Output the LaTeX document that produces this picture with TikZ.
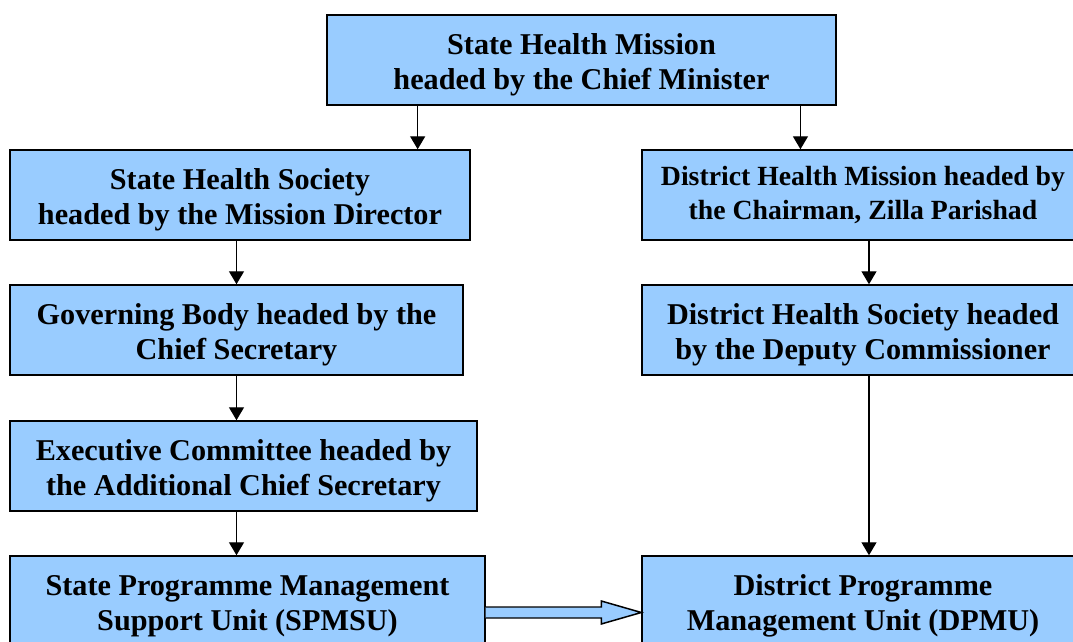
\documentclass[tikz,border=0pt]{standalone}
\usepackage{fontspec}
\setmainfont{Liberation Serif}
\usetikzlibrary{arrows.meta,calc}

\definecolor{boxblue}{HTML}{99CCFF}

\begin{document}
\begin{tikzpicture}[x = 0.02cm, y = -0.02cm,
    boxbase/.style = {draw, fill = boxblue, line width = 0.85pt, align = center,
        minimum height = 1.8cm, inner sep = 0pt},
    box/.style = {boxbase, font = \fontsize{17.2}{20}\selectfont\bfseries,
        execute at begin node = {\rule{0pt}{37.5pt}}},
    smallbox/.style = {boxbase, font = \fontsize{15.8}{19}\selectfont\bfseries},
    link/.style = {line width = 0.8pt, -{Triangle[length = 0.26cm, width = 0.3cm]}},
    bigarrow/.style = {draw, fill = boxblue, line width = 0.85pt, line join = miter}]
    \clip (0,0) rectangle (1073,642);

    % mission at the top
    \node[box, minimum width = 10.18cm] (mission) at (581.5,60)
        {State Health Mission\\headed by the Chief Minister};

    % state side
    \node[box, minimum width = 9.2cm] (shs) at (240,195)
        {State Health Society\\headed by the Mission Director};
    \node[box, minimum width = 9.06cm] (gb) at (236.5,330)
        {Governing Body headed by the\\Chief Secretary};
    \node[box, minimum width = 9.34cm] (ec) at (243.5,466)
        {Executive Committee headed by\\the Additional Chief Secretary};
    \node[box, minimum width = 9.5cm] (spmsu) at (247.5,601)
        {State Programme Management\\Support Unit (SPMSU)};

    % district side
    \node[smallbox, minimum width = 8.84cm] (dhm) at (863,195)
        {District Health Mission headed by\\the Chairman, Zilla Parishad};
    \node[box, minimum width = 8.84cm] (dhs) at (863,330)
        {District Health Society headed\\by the Deputy Commissioner};
    \node[box, minimum width = 8.84cm] (dpmu) at (863,601)
        {District Programme\\Management Unit (DPMU)};

    \coordinate (ml) at ($(mission.south west)!0.179!(mission.south east)$);
    \coordinate (mr) at ($(mission.south west)!0.929!(mission.south east)$);
    \draw[link] (ml) -- (ml |- shs.north);
    \draw[link] (mr) -- (mr |- dhm.north);

    \draw[link] (gb.north |- shs.south) -- (gb.north);
    \draw[link] (gb.south) -- (gb.south |- ec.north);
    \draw[link] (gb.south |- ec.south) -- (gb.south |- spmsu.north);

    \draw[link] ($(dhm.south)+(6,0)$) -- ($(dhs.north)+(6,0)$);
    \draw[link] ($(dhs.south)+(6,0)$) -- ($(dpmu.north)+(6,0)$);

    % block arrow SPMSU -> DPMU
    \coordinate (a) at ($(spmsu.east)+(0,11.5)$);
    \coordinate (b) at (dpmu.west |- a);
    \draw[bigarrow] ($(a)+(0,-5.5)$) -- ($(b)+(-40,-5.5)$) -- ($(b)+(-40,-11.5)$)
        -- (b) -- ($(b)+(-40,11.5)$) -- ($(b)+(-40,5.5)$) -- ($(a)+(0,5.5)$);
\end{tikzpicture}
\end{document}
